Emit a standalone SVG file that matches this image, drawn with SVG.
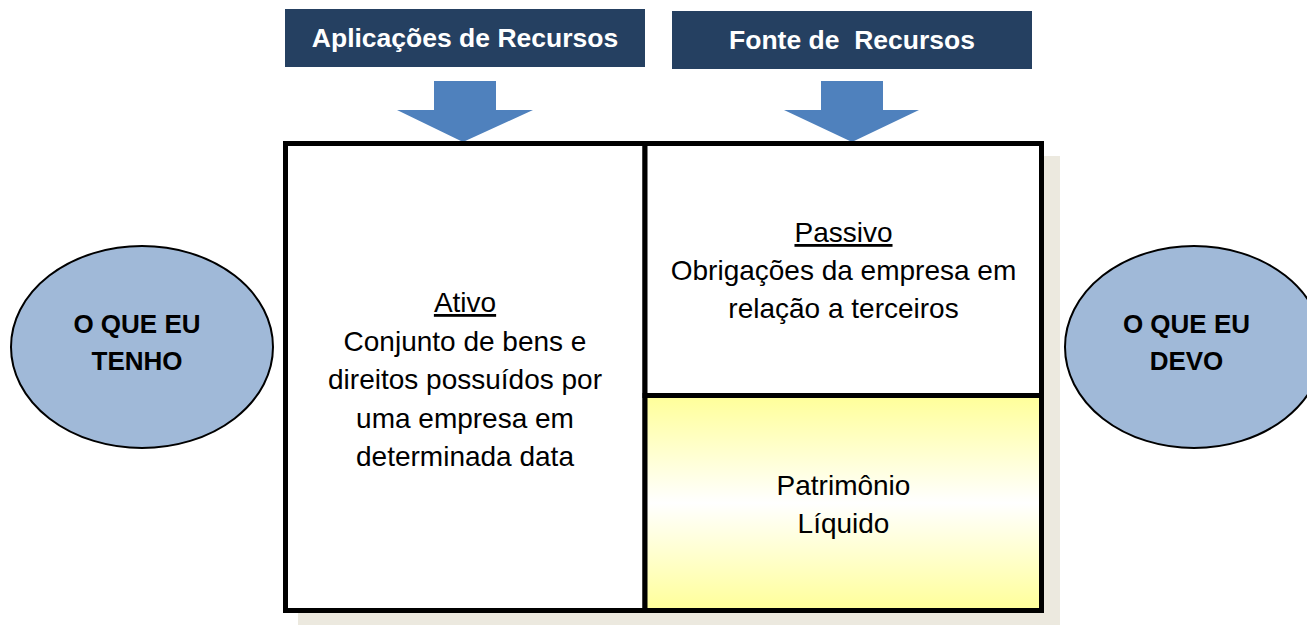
<svg xmlns="http://www.w3.org/2000/svg" width="1307" height="625" viewBox="0 0 1307 625">
  <style>
    .hdr { fill: #254061; }
    .hdrt { font-family: "Liberation Sans", Arial, sans-serif; font-weight: bold; font-size: 26.5px; fill: #ffffff; text-anchor: middle; }
    .arrow { fill: #4F81BD; }
    .circ { fill: #A0B9D8; stroke: #000000; stroke-width: 2; }
    .circt { font-family: "Liberation Sans", Arial, sans-serif; font-weight: bold; font-size: 26px; fill: #000000; text-anchor: middle; }
    .cell { stroke: #000000; stroke-width: 5; }
    .body { font-family: "Liberation Sans", Arial, sans-serif; font-size: 28px; fill: #000000; text-anchor: middle; }
  </style>
  <defs>
    <linearGradient id="plGrad" x1="0" y1="0" x2="0" y2="1">
      <stop offset="0" stop-color="#FFFF99"/>
      <stop offset="0.5" stop-color="#FFFFFF"/>
      <stop offset="1" stop-color="#FFFF99"/>
    </linearGradient>
  </defs>

  <rect id="shadow" x="298" y="156" width="762" height="469" fill="#ECE9DF"/>

  <g id="hdr-aplicacoes">
    <rect class="hdr" x="285" y="9" width="360" height="58"/>
    <text class="hdrt" x="465" y="47">Aplicações de Recursos</text>
  </g>
  <g id="hdr-fonte">
    <rect class="hdr" x="672" y="11" width="360" height="58"/>
    <text class="hdrt" x="852" y="49" xml:space="preserve">Fonte de  Recursos</text>
  </g>

  <g id="connectors">
    <polygon class="arrow" points="434,81 496,81 496,110 533,110 463,142 397,110 434,110"/>
    <polygon class="arrow" points="821,81 883,81 883,110 919,110 852,142 784,110 821,110"/>
  </g>

  <g id="ativo">
    <rect class="cell" x="285.5" y="143.5" width="359.5" height="467" fill="#ffffff"/>
    <text class="body" x="465" y="312" text-decoration="underline">Ativo</text>
    <text class="body" x="465" y="350.5">Conjunto de bens e</text>
    <text class="body" x="465" y="389">direitos possuídos por</text>
    <text class="body" x="465" y="427.5">uma empresa em</text>
    <text class="body" x="465" y="466">determinada data</text>
  </g>

  <g id="passivo">
    <rect class="cell" x="645" y="143.5" width="396.5" height="252" fill="#ffffff"/>
    <text class="body" x="843.5" y="242" text-decoration="underline">Passivo</text>
    <text class="body" x="843.5" y="280">Obrigações da empresa em</text>
    <text class="body" x="843.5" y="318">relação a terceiros</text>
  </g>

  <g id="patrimonio">
    <rect class="cell" x="645" y="395.5" width="396.5" height="215" fill="url(#plGrad)"/>
    <text class="body" x="843.5" y="495">Patrimônio</text>
    <text class="body" x="843.5" y="533">Líquido</text>
  </g>

  <g id="tenho">
    <ellipse class="circ" cx="142" cy="347" rx="131" ry="101"/>
    <text class="circt" x="137" y="333">O QUE EU</text>
    <text class="circt" x="137" y="370">TENHO</text>
  </g>

  <g id="devo">
    <ellipse class="circ" cx="1194" cy="347" rx="129" ry="101"/>
    <text class="circt" x="1186.5" y="333">O QUE EU</text>
    <text class="circt" x="1186.5" y="370">DEVO</text>
  </g>
</svg>
